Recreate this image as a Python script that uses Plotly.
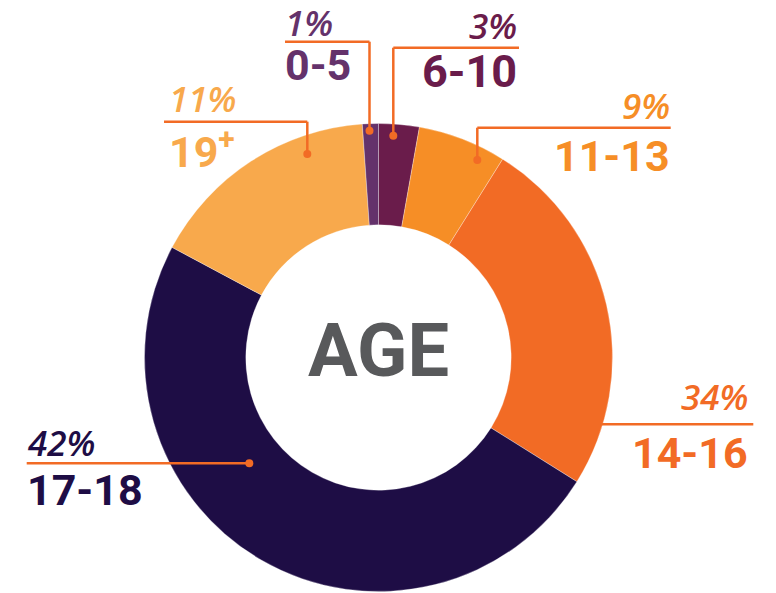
import plotly.graph_objects as go

# ---- data ----
categories = ["6-10", "11-13", "14-16", "17-18", "19+", "0-5"]
# slice sizes as drawn (angular share, %)
slice_values = [2.8, 6.1, 25.0, 48.9, 16.1, 1.1]
# percentages printed in the labels
pct_labels = ["3%", "9%", "34%", "42%", "11%", "1%"]
cat_labels = ["6-10", "11-13", "14-16", "17-18", "19<sup>+</sup>", "0-5"]

# ---- styles ----
slice_colors = ["#6a1c4b", "#f68e26", "#f26b25", "#1e0d45", "#f8a94c", "#64326b"]
text_colors = ["#6a1c4b", "#f68e26", "#f26b25", "#1e0d45", "#f8a94c", "#64326b"]
leader_color = "#f26b25"

W, H = 776, 593
CX, CY, R = 378.5, 357.5, 234.0

def px(x):
    return x / W

def py(y):
    return 1 - y / H

# label layout in pixels
label_layout = [
    dict(x=518, anchor="right", py_=25, cy=72, size=45,
         path=[(519, 47.7), (393.3, 47.7), (393.3, 135.7)], dot=(393.3, 135.7)),
    dict(x=671, anchor="right", py_=105, cy=156, size=43,
         path=[(670.7, 127.7), (477.3, 127.7), (477.3, 160)], dot=(477.3, 160)),
    dict(x=749, anchor="right", py_=396, cy=453, size=43,
         path=[(753.3, 424.3), (600, 424.3)], dot=None),
    dict(x=26, anchor="left", py_=442, cy=490, size=43,
         path=[(26.7, 463.3), (249.3, 463.3)], dot=(249.3, 463.3)),
    dict(x=168, anchor="left", py_=99, cy=149, size=43,
         path=[(164, 121.7), (307.3, 121.7), (307.3, 154)], dot=(307.3, 154)),
    dict(x=284, anchor="left", py_=22, cy=65, size=43,
         path=[(285, 41.7), (369.5, 41.7), (369.5, 130.7)], dot=(369.5, 130.7)),
]

BOLD_FAMILY = "Roboto, Liberation Sans, sans-serif"
ITAL_FAMILY = "Open Sans, Liberation Sans, sans-serif"

fig = go.Figure(
    go.Pie(
        labels=categories,
        values=slice_values,
        sort=False,
        direction="clockwise",
        rotation=0,
        hole=0.567,
        marker=dict(colors=slice_colors, line=dict(color="rgba(255,255,255,0.5)", width=0.6)),
        textinfo="none",
        hoverinfo="label+percent",
        showlegend=False,
        domain=dict(x=[px(CX - R), px(CX + R)], y=[py(CY + R), py(CY - R)]),
    )
)

shapes = []
annotations = []
for i, lay in enumerate(label_layout):
    pts = lay["path"]
    for (x0, y0), (x1, y1) in zip(pts[:-1], pts[1:]):
        shapes.append(dict(type="line", xref="paper", yref="paper",
                           x0=px(x0), y0=py(y0), x1=px(x1), y1=py(y1),
                           line=dict(color=leader_color, width=2.5)))
    if lay["dot"] is not None:
        dx, dy = lay["dot"]
        rr = 4
        shapes.append(dict(type="circle", xref="paper", yref="paper",
                           x0=px(dx - rr), x1=px(dx + rr), y0=py(dy + rr), y1=py(dy - rr),
                           fillcolor=leader_color, line=dict(width=0)))
    annotations.append(dict(
        text=pct_labels[i], xref="paper", yref="paper",
        x=px(lay["x"]), y=py(lay["py_"]), xanchor=lay["anchor"], yanchor="middle",
        showarrow=False, borderpad=0,
        font=dict(family=ITAL_FAMILY, size=35, color=text_colors[i], style="italic", weight=600),
    ))
    annotations.append(dict(
        text=cat_labels[i], xref="paper", yref="paper",
        x=px(lay["x"]), y=py(lay["cy"]), xanchor=lay["anchor"], yanchor="middle",
        showarrow=False, borderpad=0,
        font=dict(family=BOLD_FAMILY, size=lay["size"], color=text_colors[i], weight="bold"),
    ))

annotations.append(dict(
    text="AGE", xref="paper", yref="paper", x=px(CX), y=py(350), xanchor="center",
    yanchor="middle", showarrow=False,
    font=dict(family=BOLD_FAMILY, size=74, color="#58595b", weight="bold"),
))

fig.update_layout(
    width=W, height=H,
    margin=dict(l=0, r=0, t=0, b=0),
    paper_bgcolor="white", plot_bgcolor="white",
    shapes=shapes, annotations=annotations,
)

fig.write_html("out.html", config={"displayModeBar": False},
               post_script="document.body.style.margin='0px';")
